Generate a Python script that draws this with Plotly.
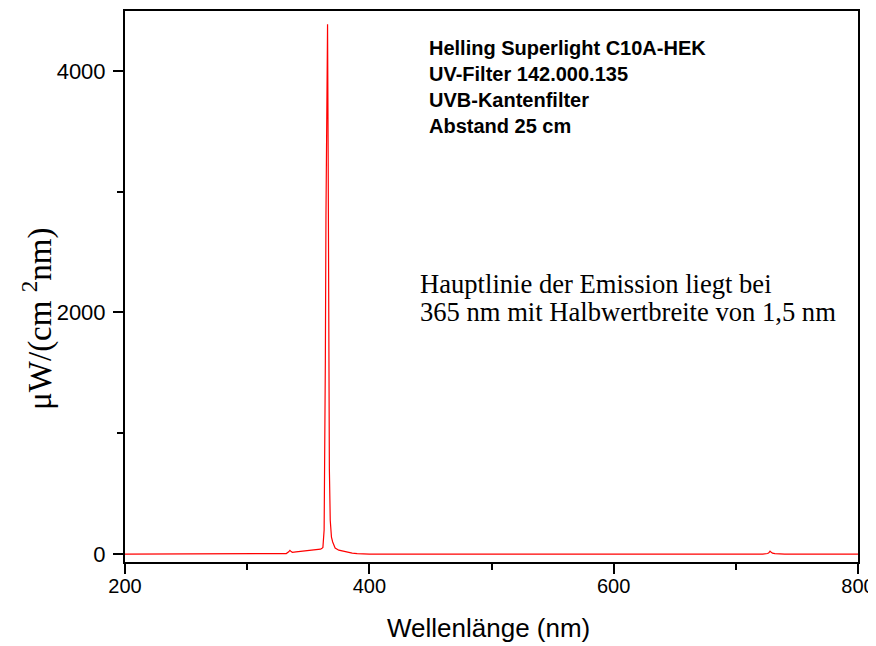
import plotly.graph_objects as go

# Spectrum (wavelength nm, irradiance µW/(cm² nm))
wavelength = [200, 330, 332, 334, 335, 336, 337, 340, 345, 350, 355, 358, 360, 361, 362,
              363, 363.5, 364, 364.5, 365, 365.8, 366.3, 366.8, 367.3, 368, 369, 370,
              372, 375, 378, 382, 386, 390, 395, 400,
              722, 724, 726, 727, 728, 729, 730, 732, 735, 740, 800]
irradiance = [0, 0, 4, 18, 30, 20, 14, 17, 22, 27, 32, 36, 40, 45, 55,
              200, 700, 1600, 2800, 3700, 4385, 3300, 1800, 700, 280, 140, 100,
              50, 32, 24, 15, 8, 3, 1, 0,
              0, 0, 4, 10, 24, 14, 7, 3, 1, 0, 0]

x_ticks = [200, 400, 600, 800]
y_ticks = [0, 2000, 4000]
info_lines = ["Helling Superlight C10A-HEK", "UV-Filter 142.000.135",
              "UVB-Kantenfilter", "Abstand 25 cm"]
note_lines = ["Hauptlinie der Emission liegt bei", "365 nm mit Halbwertbreite von 1,5 nm"]

# page body has an 8px margin; size the figure so the plot area lands where the reference has it
OFF = 8
L, R, T, B = 125, 876 - 858, 9, 646 - 562
FW, FH = 876 - OFF, 646 - OFF
PW, PH = 858 - 125, 562 - 9

def px(X):
    return (X - L) / PW

def py(Y):
    return (562 - Y) / PH

axis_common = dict(showline=True, linecolor="black", linewidth=2, mirror=True,
                   showgrid=False, zeroline=False, ticks="outside", ticklen=10,
                   tickwidth=1.6, tickcolor="black")

fig = go.Figure()
fig.add_trace(go.Scatter(x=wavelength, y=irradiance, mode="lines",
                         line=dict(color="#ff0000", width=1.2), showlegend=False))

fig.update_layout(
    width=FW, height=FH,
    margin=dict(l=L - OFF, r=R, t=T - OFF, b=B),
    paper_bgcolor="white", plot_bgcolor="white",
    xaxis=dict(range=[200, 800], tickvals=x_ticks, ticklabelstandoff=-5,
               ticklabeloverflow="allow",
               tickfont=dict(family="Liberation Sans, Arial", size=20, color="black"),
               minor=dict(dtick=100, tick0=200, ticks="outside", ticklen=6,
                          tickwidth=1.6, tickcolor="black"),
               **axis_common),
    yaxis=dict(range=[-66, 4495], tickvals=y_ticks, ticklabelstandoff=3,
               tickfont=dict(family="Liberation Sans, Arial", size=22, color="black"),
               minor=dict(dtick=1000, tick0=0, ticks="outside", ticklen=6,
                          tickwidth=1.6, tickcolor="black"),
               **axis_common),
)

for i, t in enumerate(info_lines):
    fig.add_annotation(text="<b>%s</b>" % t, xref="paper", yref="paper",
                       x=px(427), y=py(46 + 26.2 * i), xanchor="left", yanchor="middle",
                       showarrow=False,
                       font=dict(family="Liberation Sans, Arial", size=20, color="black"))

for i, t in enumerate(note_lines):
    fig.add_annotation(text=t, xref="paper", yref="paper",
                       x=px(418), y=py(283 + 28.5 * i), xanchor="left", yanchor="middle",
                       showarrow=False,
                       font=dict(family="Liberation Serif, Times New Roman", size=26.6, color="black"))

fig.add_annotation(text="μW/(cm <sup>2</sup>nm)", xref="paper", yref="paper",
                   x=px(38), y=py(318), xanchor="center", yanchor="middle", textangle=-90,
                   showarrow=False,
                   font=dict(family="Liberation Serif, Times New Roman", size=33, color="black"))

fig.add_annotation(text="Wellenlänge (nm)", xref="paper", yref="paper",
                   x=px(488), y=py(628), xanchor="center", yanchor="middle",
                   showarrow=False,
                   font=dict(family="Liberation Sans, Arial", size=26, color="black"))

fig.write_html("out.html")
